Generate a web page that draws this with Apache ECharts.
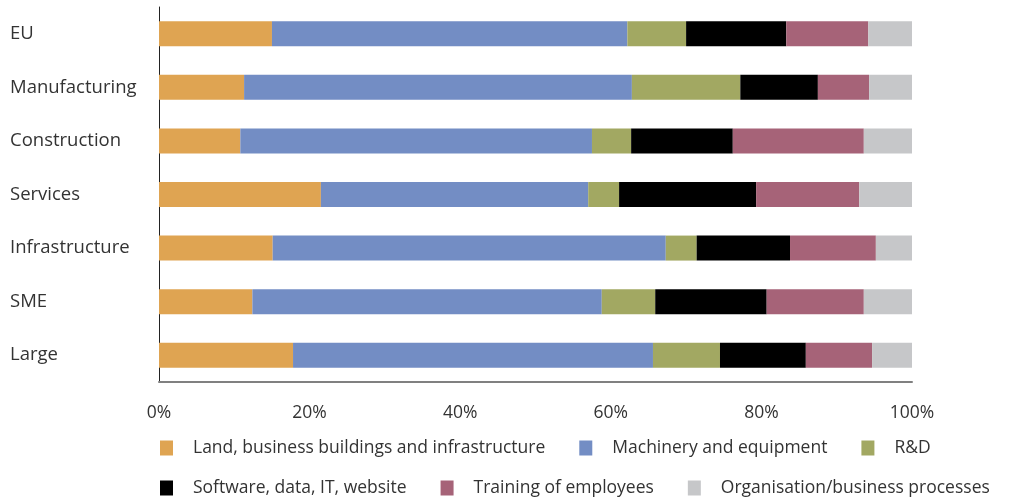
<!DOCTYPE html>
<html>
<head>
<meta charset="utf-8">
<title>Investment areas by sector and firm size</title>
<script src="https://cdn.jsdelivr.net/npm/echarts@6/dist/echarts.min.js"></script>
<style>
  html, body { margin: 0; padding: 0; background: #ffffff; }
  #chart { width: 1011px; height: 497px; }
</style>
</head>
<body>
<div id="chart"></div>
<script>
// Groups, top to bottom
const categories = ['EU', 'Manufacturing', 'Construction', 'Services', 'Infrastructure', 'SME', 'Large'];

// Share of investment (%) per area, one value per group
const land      = [15.0, 11.3, 10.8, 21.5, 15.1, 12.4, 17.8];
const machinery = [47.2, 51.5, 46.7, 35.5, 52.2, 46.4, 47.8];
const rnd       = [ 7.8, 14.4,  5.2,  4.1,  4.1,  7.1,  8.9];
const software  = [13.3, 10.3, 13.5, 18.2, 12.4, 14.8, 11.4];
const training  = [10.9,  6.8, 17.4, 13.7, 11.4, 12.9,  8.8];
const orgProc   = [ 5.8,  5.7,  6.4,  7.0,  4.8,  6.4,  5.3];

const seriesNames = [
  'Land, business buildings and infrastructure',
  'Machinery and equipment',
  'R&D',
  'Software, data, IT, website',
  'Training of employees',
  'Organisation/business processes'
];
const seriesData = [land, machinery, rnd, software, training, orgProc];
const seriesColors = ['#dfa452', '#738dc4', '#a2a862', '#000000', '#a66378', '#c6c7c9'];

const FONT = '"Open Sans", "DejaVu Sans", sans-serif';
const TEXT_COLOR = '#333333';

const legendBase = {
  orient: 'horizontal',
  padding: 0,
  itemWidth: 13,
  itemHeight: 15,
  icon: 'rect',
  itemGap: 34,
  textStyle: { fontFamily: FONT, fontSize: 17.5, color: TEXT_COLOR, padding: [0, 0, 0, 15] }
};

const chart = echarts.init(document.getElementById('chart'), null, { renderer: 'canvas' });

chart.setOption({
  animation: false,
  backgroundColor: '#ffffff',
  grid: { left: 159, right: 99, top: 7, bottom: 115, containLabel: false },
  legend: [
    Object.assign({}, legendBase, { left: 160, top: 439, data: seriesNames.slice(0, 3) }),
    Object.assign({}, legendBase, { left: 160, top: 479, data: seriesNames.slice(3) })
  ],
  xAxis: {
    type: 'value',
    min: 0,
    max: 100,
    interval: 20,
    axisLine: { show: true, lineStyle: { color: '#808080', width: 2 } },
    axisTick: { show: false },
    splitLine: { show: false },
    axisLabel: {
      formatter: '{value}%',
      margin: 22,
      fontFamily: FONT,
      fontSize: 17.5,
      color: TEXT_COLOR
    }
  },
  yAxis: {
    type: 'category',
    inverse: true,
    data: categories,
    axisLine: { show: true, lineStyle: { color: '#222222', width: 1 } },
    axisTick: { show: false },
    axisLabel: {
      margin: 149,
      align: 'left',
      padding: [9, 0, 0, 0],
      fontFamily: FONT,
      fontSize: 18.5,
      color: TEXT_COLOR
    }
  },
  series: seriesNames.map((name, i) => ({
    name: name,
    type: 'bar',
    stack: 'total',
    barWidth: 25,
    itemStyle: { color: seriesColors[i] },
    data: seriesData[i]
  }))
});
</script>
</body>
</html>
